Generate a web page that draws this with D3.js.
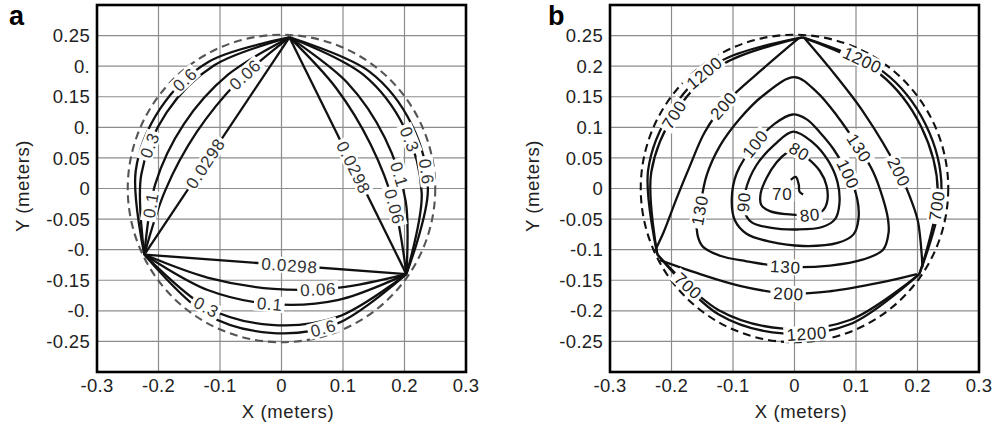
<!DOCTYPE html>
<html>
<head>
<meta charset="utf-8">
<title>Contour plots a / b</title>
<script src="https://d3js.org/d3.v7.min.js"></script>
<style>
  body { margin: 0; background: #fff; }
  svg { display: block; font-family: "Liberation Sans", Arial, sans-serif; }
</style>
</head>
<body>
<svg width="994" height="424"></svg>

<script>
  // ---- axes ----
  const xTicks = [-0.3, -0.2, -0.1, 0, 0.1, 0.2, 0.3];
  const xTickLabels = ["-0.3", "-0.2", "-0.1", "0", "0.1", "0.2", "0.3"];
  const yTicks = [0.25, 0.2, 0.15, 0.1, 0.05, 0, -0.05, -0.1, -0.15, -0.2, -0.25];
  const yTickLabelsA = ["0.25", "0.", "0.15", "0.", "0.05", "0", "-0.05", "-0.", "-0.15", "-0.", "-0.25"];
  const yTickLabelsB = ["0.25", "0.2", "0.15", "0.1", "0.05", "0", "-0.05", "-0.1", "-0.15", "-0.2", "-0.25"];
  const circleR = 0.25;

  // electrode corners (meters)
  const T = [0.013, 0.247], L = [-0.223, -0.108], R = [0.203, -0.140];

  // ---- panel a contours (one line per side of the triangle) ----
  const a0298 = [[T, L], [L, R], [R, T]];
  const a006 = [
    [T, [-0.071, 0.175], [-0.138, 0.092], [-0.189, -0.003], L],
    [L, [-0.119, -0.146], [-0.013, -0.164], [0.094, -0.162], R],
    [R, [0.184, -0.030], [0.145, 0.072], [0.089, 0.164], T]
  ];
  const a01 = [
    [T, [-0.087, 0.186], [-0.159, 0.105], [-0.205, 0.008], L],
    [L, [-0.120, -0.166], [-0.015, -0.189], [0.093, -0.182], R],
    [R, [0.202, -0.021], [0.168, 0.083], [0.107, 0.173], T]
  ];
  const a03 = [
    [T, [-0.110, 0.201], [-0.187, 0.124], [-0.228, 0.023], L],
    [L, [-0.122, -0.194], [-0.017, -0.223], [0.091, -0.210], R],
    [R, [0.228, -0.008], [0.200, 0.099], [0.133, 0.186], T]
  ];
  const a06 = [
    [T, [-0.119, 0.207], [-0.197, 0.131], [-0.237, 0.029], L],
    [L, [-0.123, -0.205], [-0.018, -0.236], [0.090, -0.221], R],
    [R, [0.238, -0.003], [0.212, 0.104], [0.143, 0.191], T]
  ];
  const aLabels = [
    ["0.0298", -0.123, 0.040], ["0.06", -0.058, 0.185], ["0.1", -0.215, -0.027],
    ["0.3", -0.215, 0.071], ["0.6", -0.158, 0.179],
    ["0.0298", 0.013, -0.128], ["0.06", 0.060, -0.167], ["0.1", -0.019, -0.192],
    ["0.3", -0.125, -0.200], ["0.6", 0.068, -0.229],
    ["0.0298", 0.124, 0.038], ["0.06", 0.184, -0.030], ["0.1", 0.189, 0.022],
    ["0.3", 0.205, 0.079], ["0.6", 0.233, 0.027]
  ];

  // ---- panel b contours ----
  const b70 = [[[-0.006, 0.014], [0.002, 0.019], [0.007, 0.006], [0.008, -0.005], [0.014, -0.010]]];
  const b80 = [[[0.000, 0.064], [0.022, 0.049], [0.041, 0.029], [0.052, 0.005], [0.053, -0.022],
    [0.045, -0.037], [0.025, -0.043], [-0.013, -0.042], [-0.040, -0.037], [-0.054, -0.027],
    [-0.055, -0.008], [-0.045, 0.018], [-0.029, 0.043], [-0.012, 0.059]]];
  const b90 = [[[-0.002, 0.093], [0.030, 0.075], [0.055, 0.045], [0.070, 0.010], [0.073, -0.025],
    [0.066, -0.050], [0.045, -0.063], [0.005, -0.067], [-0.040, -0.064], [-0.070, -0.055],
    [-0.082, -0.035], [-0.080, -0.005], [-0.062, 0.038], [-0.032, 0.072]]];
  const b100 = [[[-0.003, 0.121], [0.020, 0.113], [0.041, 0.092], [0.063, 0.065], [0.087, 0.024],
    [0.102, -0.017], [0.104, -0.050], [0.096, -0.075], [0.070, -0.089], [0.014, -0.094],
    [-0.040, -0.087], [-0.078, -0.074], [-0.097, -0.052], [-0.102, -0.017], [-0.094, 0.025],
    [-0.064, 0.073], [-0.032, 0.106]]];
  const b130 = [[[0.000, 0.182], [0.036, 0.158], [0.069, 0.119], [0.104, 0.068], [0.128, 0.027],
    [0.144, -0.017], [0.152, -0.050], [0.153, -0.072], [0.144, -0.100], [0.112, -0.116],
    [0.058, -0.126], [-0.015, -0.128], [-0.078, -0.119], [-0.121, -0.110], [-0.150, -0.094],
    [-0.159, -0.066], [-0.154, -0.034], [-0.143, 0.021], [-0.121, 0.070], [-0.089, 0.114],
    [-0.051, 0.152]]];
  const b200 = [
    [[0.006, 0.245], [-0.051, 0.196], [-0.112, 0.140], [-0.146, 0.092], [-0.170, 0.037],
     [-0.192, -0.017], [-0.213, -0.072], [-0.227, -0.102]],
    [[0.017, 0.245], [0.058, 0.196], [0.112, 0.125], [0.169, 0.029], [0.193, -0.028],
     [0.201, -0.055], [0.207, -0.110], [0.208, -0.129]],
    [[-0.219, -0.117], [-0.159, -0.138], [-0.089, -0.159], [-0.010, -0.172], [0.058, -0.168],
     [0.139, -0.154], [0.199, -0.140]]
  ];
  const b700 = [
    [T, [-0.115, 0.204], [-0.192, 0.127], [-0.233, 0.026], L],
    [L, [-0.123, -0.199], [-0.018, -0.229], [0.090, -0.215], R],
    [R, [0.233, -0.005], [0.206, 0.101], [0.138, 0.188], T]
  ];
  const b1200 = [
    [T, [-0.120, 0.208], [-0.198, 0.131], [-0.238, 0.030], L],
    [L, [-0.123, -0.206], [-0.019, -0.237], [0.090, -0.222], R],
    [R, [0.239, -0.002], [0.213, 0.105], [0.144, 0.191], T]
  ];
  const bLabels = [
    ["1200", -0.143, 0.185], ["700", -0.202, 0.125], ["200", -0.116, 0.136],
    ["1200", 0.109, 0.207], ["130", 0.104, 0.066], ["200", 0.169, 0.027],
    ["700", 0.226, -0.028], ["130", -0.154, -0.036], ["90", -0.081, -0.022],
    ["100", -0.062, 0.071], ["80", 0.006, 0.058], ["100", 0.087, 0.024],
    ["80", 0.025, -0.044], ["130", -0.015, -0.127], ["200", -0.010, -0.171],
    ["1200", 0.020, -0.232], ["700", -0.175, -0.162]
  ];
  const bFreeLabels = [["70", -0.020, -0.008]];

  const contoursA = [
    { level: "0.0298", lines: a0298 }, { level: "0.06", lines: a006 },
    { level: "0.1", lines: a01 }, { level: "0.3", lines: a03 }, { level: "0.6", lines: a06 }
  ];
  const contoursB = [
    { level: "70", lines: b70 }, { level: "80", lines: b80, closed: true },
    { level: "90", lines: b90, closed: true }, { level: "100", lines: b100, closed: true },
    { level: "130", lines: b130, closed: true }, { level: "200", lines: b200 },
    { level: "700", lines: b700 }, { level: "1200", lines: b1200 }
  ];

  const svg = d3.select("svg");
  const plotTop = 5, plotBottom = 372, plotSize = 369;

  function drawPanel(opt) {
    const x = d3.scaleLinear().domain([-0.3, 0.3]).range([opt.left, opt.left + plotSize]);
    const y = d3.scaleLinear().domain([-0.3, 0.3]).range([plotBottom, plotTop]);
    const g = svg.append("g");

    // grid
    g.append("g").selectAll("line").data(xTicks.slice(1, -1)).join("line")
      .attr("x1", d => x(d)).attr("x2", d => x(d))
      .attr("y1", plotTop).attr("y2", plotBottom)
      .attr("stroke", "#8c8c8c").attr("stroke-width", 1.2);
    g.append("g").selectAll("line").data(yTicks).join("line")
      .attr("x1", opt.left).attr("x2", opt.left + plotSize)
      .attr("y1", d => y(d)).attr("y2", d => y(d))
      .attr("stroke", "#8c8c8c").attr("stroke-width", 1.2);

    // dashed boundary circle
    g.append("circle")
      .attr("cx", x(0)).attr("cy", y(0)).attr("r", x(circleR) - x(0))
      .attr("fill", "none").attr("stroke", opt.circleColor)
      .attr("stroke-width", 2.1).attr("stroke-dasharray", "8,5");

    // contour lines
    const openLine = d3.line().x(d => x(d[0])).y(d => y(d[1])).curve(d3.curveCatmullRom.alpha(0.5));
    const closedLine = d3.line().x(d => x(d[0])).y(d => y(d[1])).curve(d3.curveCatmullRomClosed.alpha(0.5));
    const nodes = {};
    opt.contours.forEach(c => {
      nodes[c.level] = [];
      c.lines.forEach(pts => {
        const p = g.append("path")
          .attr("d", (c.closed ? closedLine : openLine)(pts))
          .attr("fill", "none").attr("stroke", "#111").attr("stroke-width", 2.3);
        nodes[c.level].push(p.node());
      });
    });

    // inline labels, snapped to their line and turned along it
    const labelG = g.append("g");
    function putLabel(txt, px, py, ang) {
      const lg = labelG.append("g").attr("transform", `translate(${px},${py}) rotate(${ang})`);
      const t = lg.append("text").text(txt)
        .attr("text-anchor", "middle").attr("dy", "0.36em")
        .attr("font-size", 17).attr("fill", opt.labelColor)
        .style("letter-spacing", "0.7px");
      const bb = t.node().getBBox();
      lg.insert("rect", "text")
        .attr("x", bb.x - 3).attr("y", -8)
        .attr("width", bb.width + 5).attr("height", 16)
        .attr("fill", "#fff");
    }
    opt.labels.forEach(([txt, lx, ly]) => {
      const tx = x(lx), ty = y(ly);
      let best = null;
      (nodes[txt] || []).forEach(node => {
        const len = node.getTotalLength();
        for (let s = 0; s <= len; s += 0.5) {
          const p = node.getPointAtLength(s);
          const d = (p.x - tx) ** 2 + (p.y - ty) ** 2;
          if (!best || d < best.d) best = { d, s, node, len, p };
        }
      });
      if (!best) return;
      const a = best.node.getPointAtLength(Math.max(0, best.s - 5));
      const b = best.node.getPointAtLength(Math.min(best.len, best.s + 5));
      let ang = Math.atan2(b.y - a.y, b.x - a.x) * 180 / Math.PI;
      if (ang > 90) ang -= 180;
      if (ang <= -90) ang += 180;
      putLabel(txt, best.p.x, best.p.y, ang);
    });
    (opt.freeLabels || []).forEach(([txt, lx, ly]) => putLabel(txt, x(lx), y(ly), 0));

    // frame
    g.append("rect")
      .attr("x", opt.left).attr("y", plotTop).attr("width", plotSize).attr("height", plotBottom - plotTop)
      .attr("fill", "none").attr("stroke", "#000").attr("stroke-width", 2.6);

    // tick labels
    g.append("g").selectAll("text").data(xTicks).join("text")
      .attr("x", d => x(d)).attr("y", 391.5)
      .attr("text-anchor", "middle").attr("font-size", 18.5).attr("fill", "#222")
      .style("letter-spacing", "0.3px")
      .text((d, i) => xTickLabels[i]);
    g.append("g").selectAll("text").data(yTicks).join("text")
      .attr("x", opt.left - 7).attr("y", d => y(d) + 6.6)
      .attr("text-anchor", "end").attr("font-size", 18.5).attr("fill", "#222")
      .style("letter-spacing", "0.3px")
      .text((d, i) => opt.yLabels[i]);

    // axis titles
    g.append("text")
      .attr("x", opt.left + 191).attr("y", 418)
      .attr("text-anchor", "middle").attr("font-size", 18.5).attr("fill", "#222")
      .style("letter-spacing", "0.6px")
      .text("X (meters)");
    g.append("text")
      .attr("transform", `translate(${opt.yTitleX},186) rotate(-90)`)
      .attr("text-anchor", "middle").attr("font-size", 18.5).attr("fill", "#222")
      .style("letter-spacing", "0.6px")
      .text("Y (meters)");

    // panel letter
    g.append("text")
      .attr("x", opt.letterX).attr("y", 25)
      .attr("font-size", 27).attr("font-weight", "bold").attr("fill", "#000")
      .text(opt.letter);
  }

  drawPanel({
    left: 97, letter: "a", letterX: 9, yTitleX: 29,
    yLabels: yTickLabelsA, contours: contoursA, labels: aLabels,
    circleColor: "#555", labelColor: "#333"
  });
  drawPanel({
    left: 610, letter: "b", letterX: 548, yTitleX: 539,
    yLabels: yTickLabelsB, contours: contoursB, labels: bLabels, freeLabels: bFreeLabels,
    circleColor: "#111", labelColor: "#222"
  });
</script>
</body>
</html>
